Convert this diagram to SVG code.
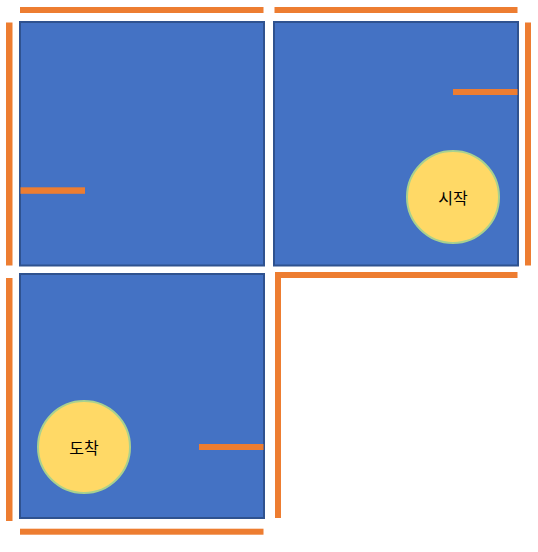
<svg xmlns="http://www.w3.org/2000/svg" width="538" height="552" viewBox="0 0 538 552">
<style>
.room{fill:#4472C4;stroke:#2F528F;stroke-width:2}
.wall{fill:#ED7D31}
.spot{fill:#FFD966;stroke:#A9D18E;stroke-width:2}
.lbl{font-family:"Noto Sans CJK KR","Noto Sans",sans-serif;font-size:16px;fill:#000;text-anchor:middle;dominant-baseline:central}
</style>
<rect width="538" height="552" fill="#fff"/>
<g id="room1"><rect class="room" x="20" y="22" width="244" height="243.5"/></g>
<g id="room2"><rect class="room" x="274" y="22" width="244" height="243.5"/></g>
<g id="room3"><rect class="room" x="20" y="274" width="244" height="244"/></g>
<g id="walls">
<rect class="wall" x="20" y="7" width="243.5" height="6"/>
<rect class="wall" x="274.5" y="7" width="243" height="6"/>
<rect class="wall" x="6" y="22.5" width="6.5" height="243"/>
<rect class="wall" x="6" y="278" width="6.5" height="243"/>
<rect class="wall" x="525" y="22.5" width="6" height="243"/>
<rect class="wall" x="275" y="272" width="242.5" height="6"/>
<rect class="wall" x="275" y="272" width="6" height="246"/>
<rect class="wall" x="20" y="528.7" width="243.5" height="6"/>
<rect class="wall" x="20.5" y="187.3" width="64.5" height="6.5"/>
<rect class="wall" x="453" y="89" width="64.5" height="6"/>
<rect class="wall" x="199" y="444" width="64.5" height="6"/>
</g>
<g id="start"><circle class="spot" cx="453" cy="197" r="46"/><text class="lbl" x="453" y="197">시작</text></g>
<g id="goal"><circle class="spot" cx="84" cy="447" r="46"/><text class="lbl" x="84" y="447">도착</text></g>
</svg>
